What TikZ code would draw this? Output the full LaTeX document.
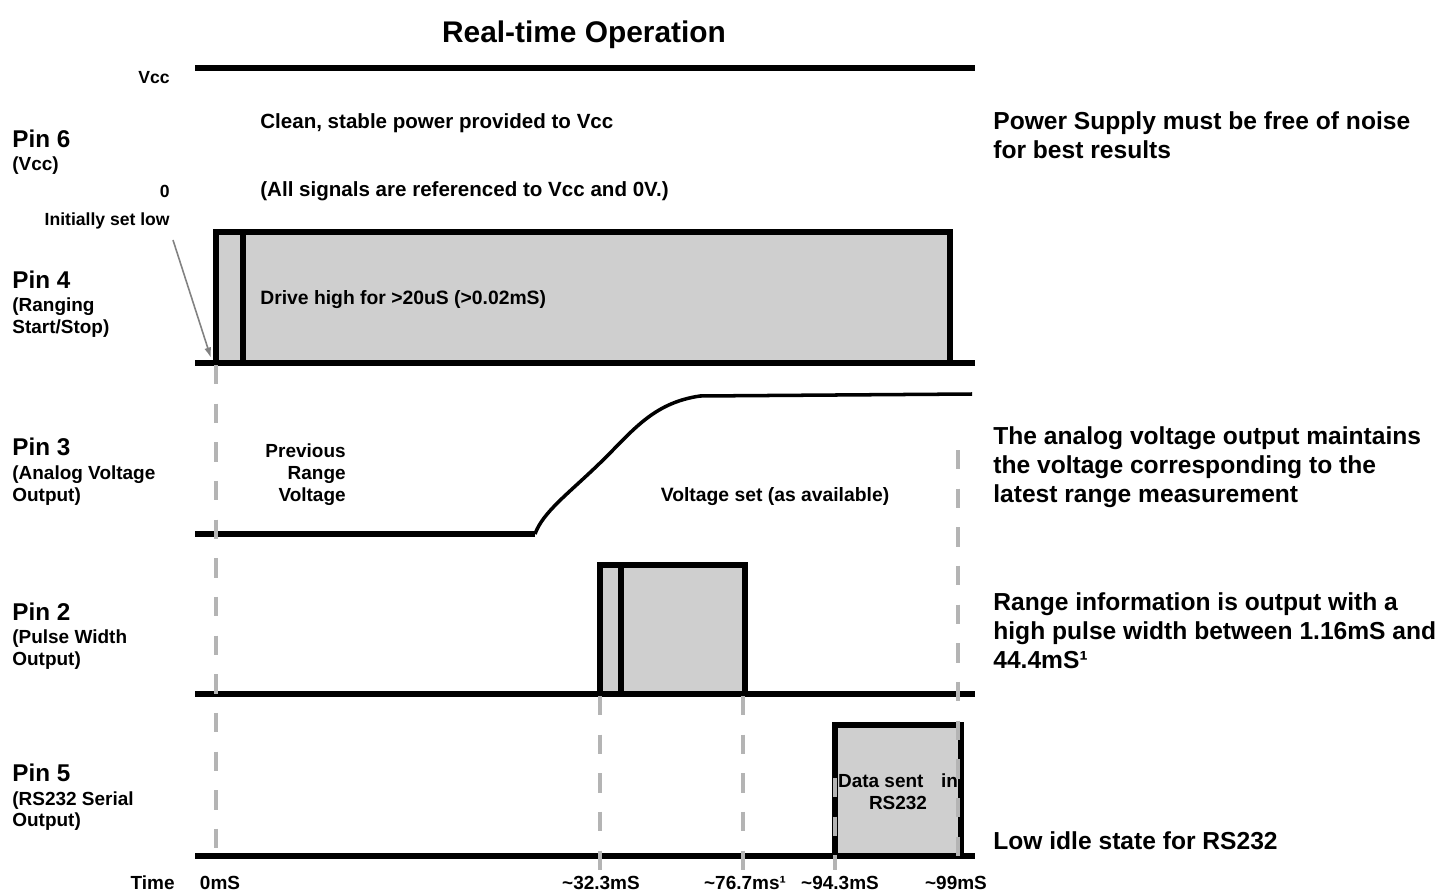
\documentclass[tikz,border=0pt]{standalone}
\usepackage{fontspec}
\setmainfont{Liberation Sans}
\usetikzlibrary{positioning,arrows.meta}

\definecolor{pulsegray}{RGB}{207,207,207}
\definecolor{guidegray}{RGB}{180,180,180}
\definecolor{arrowgray}{RGB}{130,130,130}

\tikzset{
    wave/.style={draw=black, line width=3.3pt},
    ramp/.style={draw=black, line width=2pt},
    level/.style={fill=pulsegray},
    guide/.style={draw=guidegray, line width=2.2pt, dash pattern=on 11pt off 11pt},
    pinname/.style={inner sep=0pt, anchor=base west, font=\bfseries\fontsize{13.8}{16}\selectfont},
    pinnote/.style={inner sep=0pt, align=left, font=\bfseries\fontsize{10.8}{12.5}\selectfont},
    txt/.style={inner sep=0pt, anchor=base west, font=\bfseries\fontsize{11}{13}\selectfont},
    bigtxt/.style={txt, font=\bfseries\fontsize{11.7}{14}\selectfont},
    tick/.style={inner sep=0pt, anchor=base, font=\bfseries\fontsize{10.8}{12.5}\selectfont},
    tiny/.style={inner sep=0pt, anchor=base east, font=\bfseries\fontsize{10}{12}\selectfont},
    remark/.style={inner sep=0pt, anchor=north west, align=left, font=\bfseries\fontsize{14}{16.4}\selectfont},
}

\begin{document}
\begin{tikzpicture}[x=0.02cm, y=-0.02cm]
    \path[use as bounding box, fill=white] (0,0) rectangle (1456,895) ;

    \node[inner sep=0pt, anchor=base, font=\bfseries\fontsize{17}{20}\selectfont] (title) at (584,43) {Real-time Operation} ;

    \node[pinname] (pin6) at (12,147.7) {Pin 6} ;
    \node[pinnote, below right = 4.9pt and 0pt of pin6.south west] (pin6n) {(Vcc)} ;
    \node[pinname] (pin4) at (12,288.7) {Pin 4} ;
    \node[pinnote, below right = 4.9pt and 0pt of pin4.south west] (pin4n) {(Ranging\\Start/Stop)} ;
    \node[pinname] (pin3) at (12,455.7) {Pin 3} ;
    \node[pinnote, below right = 4.9pt and 0pt of pin3.south west] (pin3n) {(Analog Voltage\\Output)} ;
    \node[pinname] (pin2) at (12,620.7) {Pin 2} ;
    \node[pinnote, below right = 4.9pt and 0pt of pin2.south west] (pin2n) {(Pulse Width\\Output)} ;
    \node[pinname] (pin5) at (12,781.7) {Pin 5} ;
    \node[pinnote, below right = 4.9pt and 0pt of pin5.south west] (pin5n) {(RS232 Serial\\Output)} ;

    \node[tiny] (vcclbl) at (170,84) {Vcc} ;
    \node[tiny] (zerolbl) at (170,197) {0} ;
    \node[tiny] (lowlbl) at (170,226) {Initially set low} ;

    \draw[wave] (195,68) -- (975,68) ;
    \node[bigtxt] (clean) at (260,129) {Clean, stable power provided to Vcc} ;
    \node[bigtxt] (allref) at (260,196) {(All signals are referenced to Vcc and 0V.)} ;

    \path[level] (216,232) rectangle (950,363) ;
    \draw[wave] (195,363) -- (975,363) ;
    \draw[wave] (216,363) |- (950,232) -- (950,363) ;
    \draw[wave] (243,232) -- (243,363) ;
    \node[txt] (drive) at (260,304) {Drive high for >20uS (>0.02mS)} ;
    \coordinate (rise4) at (211,358) ;
    \draw[-{Latex[length=6pt,width=4pt]}, draw=arrowgray, fill=arrowgray, line width=0.9pt] ([shift={(3,10)}]lowlbl.south east) -- (rise4) ;

    \draw[wave] (195,534) -- (535,534) ;
    \draw[ramp] (535,534) .. controls (543,512) and (568,494) .. (600,463) .. controls (632,432) and (652,403) .. (700,396) -- (972,394) ;
    \node[pinnote, anchor=north east, align=right] (prevv) at (346,443) {Previous\\Range\\Voltage} ;
    \node[txt, anchor=base] (vset) at (775,501) {Voltage set (as available)} ;

    \path[level] (600,565) rectangle (745,694) ;
    \draw[wave] (195,694) -- (975,694) ;
    \draw[wave] (600,694) |- (745,565) -- (745,694) ;
    \draw[wave] (621,565) -- (621,694) ;

    \path[level] (835,725) rectangle (961,856) ;
    \draw[wave] (195,856) -- (975,856) ;
    \draw[wave] (835,856) |- (961,725) -- (961,856) ;
    \node[pinnote, anchor=north, align=center] (rsdata) at (898,773) {Data sent\hspace{7pt} in\\RS232} ;

    \draw[guide] (216,365) -- (216,866) ;
    \draw[guide] (600,696) -- (600,872) ;
    \draw[guide] (743,696) -- (743,872) ;
    \draw[guide] (835,778) -- (835,870) ;
    \draw[guide] (958,450) -- (958,872) ;

    \node[tick, anchor=base east] (timelbl) at (175,889.8) {Time} ;
    \node[tick] (t0) at (220,889.8) {0mS} ;
    \node[tick] (t1) at (601,889.8) {\textasciitilde32.3mS} ;
    \node[tick] (t2) at (745,889.8) {\textasciitilde76.7ms¹} ;
    \node[tick] (t3) at (840,889.8) {\textasciitilde94.3mS} ;
    \node[tick] (t4) at (956,889.8) {\textasciitilde99mS} ;

    \node[remark] (rem6) at (993,111.8) {Power Supply must be free of noise\\for best results} ;
    \node[remark] (rem3) at (993,426.8) {The analog voltage output maintains\\the voltage corresponding to the\\latest range measurement} ;
    \node[remark] (rem2) at (993,592.8) {Range information is output with a\\high pulse width between 1.16mS and\\44.4mS¹} ;
    \node[remark, anchor=base west] (rem5) at (993,849.8) {Low idle state for RS232} ;
\end{tikzpicture}
\end{document}
